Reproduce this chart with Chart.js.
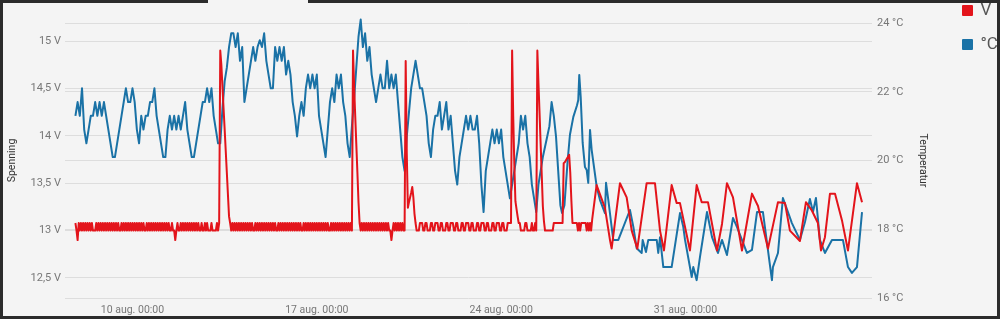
<!DOCTYPE html>
<html>
<head>
<meta charset="utf-8">
<script src="https://cdn.jsdelivr.net/npm/chart.js@4.4.1/dist/chart.umd.min.js"></script>
<style>
  html, body { margin: 0; padding: 0; background: #2b2b2b; }
  #wrap { position: relative; width: 1000px; height: 319px; background: #f4f4f4; overflow: hidden; }
  #frame { position: absolute; left: 0; top: 0; right: 0; bottom: 0; border: 3px solid #2b2b2b; pointer-events: none; }
  #notch { position: absolute; left: 208px; top: 0; width: 100px; height: 3px; background: #f4f4f4; }
</style>
</head>
<body>
<div id="wrap">
  <canvas id="chart" width="1000" height="319"></canvas>
  <div id="frame"></div>
  <div id="notch"></div>
</div>

<script>
  // time is counted in hours from 1 aug 00:00
  const seriesLabels = ['V', '°C'];

  // voltage: dense part sampled every hour, then the sparse tail as single readings
  const voltHeadStart = 164;
  const voltHeadStep = 1;
  const voltHead = [
    13.08, 13.0, 12.9, 13.08, 13.0, 13.08, 13.0, 13.08, 13.0, 13.08,
    13.0, 13.08, 13.0, 13.08, 13.0, 13.08, 13.0, 13.0, 13.0, 13.08,
    13.0, 13.08, 13.0, 13.08, 13.0, 13.08, 13.0, 13.08, 13.0, 13.08,
    13.0, 13.08, 13.0, 13.08, 13.0, 13.08, 13.0, 13.08, 13.0, 13.08,
    13.0, 13.0, 13.08, 13.0, 13.08, 13.0, 13.08, 13.0, 13.08, 13.0,
    13.08, 13.0, 13.08, 13.0, 13.08, 13.0, 13.08, 13.0, 13.08, 13.0,
    13.08, 13.0, 13.08, 13.0, 13.0, 13.08, 13.0, 13.08, 13.0, 13.08,
    13.0, 13.08, 13.0, 13.08, 13.0, 13.08, 13.0, 13.08, 13.0, 13.08,
    13.0, 13.08, 13.0, 13.08, 13.0, 13.08, 13.0, 13.0, 13.08, 13.0,
    13.0, 12.9, 13.0, 13.08, 13.0, 13.0, 13.08, 13.0, 13.08, 13.0,
    13.08, 13.0, 13.08, 13.0, 13.08, 13.0, 13.08, 13.0, 13.08, 13.0,
    13.08, 13.0, 13.08, 13.0, 13.0, 13.08, 13.0, 13.0, 13.08, 13.0,
    13.08, 13.0, 13.0, 13.0, 13.08, 13.0, 13.0, 13.0, 13.0, 13.08,
    13.0, 13.08, 14.9, 14.75, 14.52, 14.29, 14.07, 13.84, 13.61, 13.38,
    13.15, 13.08, 13.0, 13.08, 13.0, 13.08, 13.0, 13.08, 13.0, 13.08,
    13.0, 13.08, 13.0, 13.08, 13.0, 13.08, 13.0, 13.08, 13.0, 13.08,
    13.0, 13.08, 13.0, 13.0, 13.08, 13.0, 13.08, 13.0, 13.08, 13.0,
    13.08, 13.0, 13.08, 13.0, 13.08, 13.0, 13.08, 13.0, 13.08, 13.0,
    13.08, 13.0, 13.08, 13.0, 13.0, 13.08, 13.0, 13.08, 13.0, 13.08,
    13.0, 13.08, 13.0, 13.08, 13.0, 13.08, 13.0, 13.08, 13.0, 13.08,
    13.0, 13.08, 13.0, 13.08, 13.0, 13.08, 13.0, 13.0, 13.08, 13.0,
    13.08, 13.0, 13.08, 13.0, 13.08, 13.0, 13.08, 13.0, 13.08, 13.0,
    13.08, 13.0, 13.08, 13.0, 13.08, 13.0, 13.08, 13.0, 13.08, 13.0,
    13.08, 13.0, 13.0, 13.08, 13.0, 13.08, 13.0, 13.08, 13.0, 13.08,
    13.0, 13.08, 13.0, 13.08, 13.0, 13.08, 13.0, 13.08, 13.0, 13.08,
    13.0, 13.08, 13.0, 14.9, 14.52, 14.21, 13.91, 13.61, 13.3, 13.08,
    13.0, 13.08, 13.0, 13.08, 13.0, 13.08, 13.0, 13.08, 13.0, 13.08,
    13.0, 13.08, 13.0, 13.08, 13.0, 13.08, 13.0, 13.08, 13.0, 13.08,
    13.0, 13.08, 13.0, 13.08, 13.0, 13.08, 13.0, 13.0, 12.9, 13.0,
    13.08, 13.0, 13.08, 13.0, 13.08, 13.0, 13.08, 13.0, 13.08, 13.0,
    13.0, 14.79, 13.81, 13.24, 13.3, 13.35, 13.4, 13.46, 13.35, 13.18,
    13.08, 13.0, 13.0, 13.0, 13.08, 13.08, 13.08, 13.0, 13.0, 13.08,
    13.08, 13.0, 13.0, 13.0, 13.08, 13.08, 13.0, 13.0, 13.08, 13.08,
    13.08, 13.0, 13.0, 13.08, 13.08, 13.0, 13.0, 13.0, 13.08, 13.08,
    13.0, 13.0, 13.08, 13.08, 13.08, 13.0, 13.0, 13.08, 13.08, 13.0,
    13.0, 13.0, 13.08, 13.08, 13.0, 13.0, 13.08, 13.08, 13.08, 13.0,
    13.0, 13.08, 13.08, 13.0, 13.0, 13.0, 13.08, 13.08, 13.0, 13.0,
    13.08, 13.08, 13.08, 13.0, 13.0, 13.08, 13.08, 13.0, 13.0, 13.0,
    13.08, 13.08, 13.0, 13.0, 13.08, 13.08, 13.08, 13.0, 13.0, 13.08,
    13.08, 13.0, 13.0, 13.0, 13.08, 13.08, 13.08, 13.08, 14.9, 14.21,
    13.7, 13.31, 13.23, 13.15, 13.08, 13.08, 13.0, 13.0, 13.0, 13.0,
    13.08, 13.08, 13.0, 13.0, 13.0, 13.0, 13.08, 13.0, 13.0, 13.08,
    13.0, 14.9, 14.56, 14.24, 13.91, 13.59, 13.26, 13.1, 13.0, 13.0,
    13.0, 13.0, 13.0, 13.0, 13.0, 13.0, 13.08, 13.08, 13.08, 13.08,
    13.08, 13.08, 13.08, 13.08, 13.08, 13.71, 13.72, 13.74, 13.76, 13.78,
    13.8, 13.61, 13.32, 13.08, 13.08, 13.08, 13.08, 13.08, 13.0, 13.08,
    13.0, 13.08, 13.08, 13.08, 13.08, 13.08, 13.0, 13.08, 13.0, 13.08,
    13.0, 13.12, 13.21, 13.3, 13.39, 13.48
  ];
  const voltTailHours = [
    646.6, 651.2, 652.7, 660.3, 666.4, 671.0, 676.1, 684.6, 692.2, 696.8,
    700.4, 707.4, 712.0, 715.0, 724.1, 730.2, 734.8, 740.5, 748.7, 753.3,
    757.8, 763.3, 771.5, 780.6, 786.1, 795.2, 804.3, 810.7, 815.2, 824.3,
    829.8, 835.3, 840.7, 843.5, 847.1, 851.7, 856.3, 862.6, 868.1, 876.3,
    880.9
  ];
  const voltTail = [
    13.24, 12.9, 12.81, 13.5, 13.35, 13.0, 12.81, 13.5, 13.5, 13.0,
    12.79, 13.48, 13.29, 13.29, 12.79, 13.48, 13.3, 13.3, 12.79, 13.07,
    13.5, 13.35, 12.79, 13.39, 13.26, 12.81, 13.3, 13.29, 13.0, 12.89,
    13.3, 13.21, 13.08, 12.79, 12.93, 13.39, 13.39, 13.11, 12.79, 13.5,
    13.3
  ];

  // temperature: dense part sampled every 2 hours, then the sparse tail
  const tempHeadStart = 164;
  const tempHeadStep = 2;
  const tempHead = [
    21.3, 21.7, 21.3, 22.1, 20.9, 20.5, 20.9, 21.3, 21.3, 21.7,
    21.3, 21.7, 21.3, 21.7, 21.3, 20.9, 20.5, 20.1, 20.1, 20.5,
    20.9, 21.3, 21.7, 22.1, 21.7, 21.7, 22.1, 21.7, 20.9, 20.5,
    21.3, 20.9, 21.3, 21.3, 21.7, 21.7, 22.1, 21.3, 20.9, 20.5,
    20.1, 20.1, 20.9, 21.3, 20.9, 21.3, 20.9, 21.3, 20.9, 21.3,
    21.7, 20.9, 20.5, 20.1, 20.1, 20.5, 20.9, 21.3, 21.7, 21.7,
    22.1, 21.7, 22.1, 21.3, 20.9, 20.5, 20.5, 21.5, 22.3, 22.7,
    23.3, 23.7, 23.7, 23.3, 23.7, 22.9, 23.3, 21.7, 22.1, 22.5,
    22.9, 23.3, 22.9, 23.3, 23.5, 23.3, 23.7, 22.9, 22.5, 22.1,
    22.1, 23.3, 22.9, 23.3, 22.9, 23.3, 22.5, 22.9, 22.5, 21.7,
    21.3, 20.7, 21.3, 21.7, 21.3, 22.1, 22.5, 22.1, 22.5, 22.1,
    22.5, 21.3, 20.9, 20.5, 20.1, 20.9, 21.7, 22.1, 21.7, 22.5,
    22.1, 22.5, 21.7, 21.3, 20.5, 20.1, 21.0, 21.8, 22.7, 23.6,
    24.1, 23.3, 23.7, 22.9, 23.3, 22.5, 22.1, 21.7, 22.1, 22.5,
    22.1, 22.1, 22.9, 22.1, 22.5, 22.1, 22.5, 21.7, 20.9, 20.1,
    19.7, 20.7, 21.4, 22.1, 22.5, 22.9, 22.5, 22.1, 22.1, 21.7,
    21.3, 20.5, 20.1, 20.9, 21.3, 21.3, 21.7, 20.9, 21.3, 21.7,
    20.9, 21.3, 20.5, 19.7, 19.3, 20.1, 20.5, 20.9, 21.3, 20.9,
    21.3, 20.9, 20.9, 21.3, 20.5, 19.3, 18.5, 19.7, 20.1, 20.5,
    20.9, 20.5, 20.9, 20.5, 20.9, 20.1, 19.7, 19.3, 18.9, 19.3,
    19.7, 20.1, 20.5, 21.3, 20.9, 21.3, 20.5, 20.1, 19.3, 18.9,
    18.5, 19.3, 19.7, 20.1, 20.4, 20.7, 21.0, 21.7, 21.3, 20.7,
    19.7, 18.7
  ];
  const tempTailHours = [
    607.5, 609.7, 612.5, 614.7, 617.8, 621.1, 622.3, 623.2, 624.5, 626.3,
    628.4, 630.0, 631.4, 633.0, 634.5, 639.1, 642.1, 646.6, 647.6, 649.7,
    652.7, 654.2, 658.8, 669.4, 672.5, 675.5, 680.1, 681.0, 684.0, 686.1,
    693.8, 695.2, 696.8, 699.8, 707.4, 715.0, 718.0, 719.6, 725.7, 727.1,
    730.2, 733.2, 739.6, 744.2, 749.6, 753.3, 757.8, 763.3, 766.9, 776.0,
    780.6, 785.2, 790.6, 798.8, 799.7, 804.3, 808.8, 813.4, 817.0, 824.3,
    828.9, 833.4, 836.2, 838.9, 842.5, 847.1, 853.5, 863.5, 868.1, 871.7,
    876.3, 880.9
  ];
  const tempTail = [
    18.47, 18.7, 19.95, 20.75, 21.27, 21.6, 21.76, 22.49, 21.85, 20.51,
    19.81, 19.72, 19.35, 20.89, 20.31, 19.23, 18.85, 18.47, 19.35, 18.85,
    18.07, 17.69, 17.69, 18.56, 18.07, 17.45, 17.31, 17.69, 17.34, 17.69,
    17.69, 17.31, 17.77, 16.9, 16.9, 18.47, 18.07, 17.69, 16.61, 16.9,
    16.52, 17.19, 18.5, 17.77, 17.31, 17.69, 17.25, 18.33, 18.07, 17.31,
    17.4, 18.5, 18.5, 16.52, 16.9, 17.31, 18.91, 18.5, 18.18, 17.69,
    18.21, 18.88, 18.5, 18.91, 17.69, 17.31, 17.69, 17.69, 16.9, 16.73,
    16.9, 18.5
  ];

  const xTickHours = [216, 384, 552, 720];
  const xTickLabels = ['10 aug. 00:00', '17 aug. 00:00', '24 aug. 00:00', '31 aug. 00:00'];

  const gridPoints = (start, step, vals) => vals.map((v, i) => ({ x: start + i * step, y: v }));
  const pairPoints = (hours, vals) => hours.map((h, i) => ({ x: h, y: vals[i] }));

  const FONT = 'Roboto, "Noto Sans", sans-serif';
  const GRID = '#dddddd';

  // legend sits at the very top of the canvas, above the plot area
  const legendNudge = {
    id: 'legendNudge',
    afterLayout(chart) {
      chart.legend.top = -15;
    }
  };

  function initChart() {
    const ctx = document.getElementById('chart').getContext('2d');

    new Chart(ctx, {
      type: 'line',
      data: {
        datasets: [
          {
            label: seriesLabels[0],
            data: gridPoints(voltHeadStart, voltHeadStep, voltHead).concat(pairPoints(voltTailHours, voltTail)),
            yAxisID: 'yV',
            borderColor: '#e3141b',
            backgroundColor: '#e3141b',
            borderWidth: 2,
            borderJoinStyle: 'round',
            pointRadius: 0,
            tension: 0,
            clip: 8
          },
          {
            label: seriesLabels[1],
            data: gridPoints(tempHeadStart, tempHeadStep, tempHead).concat(pairPoints(tempTailHours, tempTail)),
            yAxisID: 'yT',
            borderColor: '#1a72a6',
            backgroundColor: '#1a72a6',
            borderWidth: 2,
            borderJoinStyle: 'round',
            pointRadius: 0,
            tension: 0,
            clip: 8
          }
        ]
      },
      options: {
        responsive: false,
        animation: false,
        events: [],
        layout: { padding: 0 },
        plugins: {
          tooltip: { enabled: false },
          legend: {
            position: 'right',
            align: 'start',
            maxWidth: 54,
            labels: {
              boxWidth: 9,
              boxHeight: 9,
              padding: 17,
              color: '#555',
              font: { family: FONT, size: 17 }
            }
          }
        },
        scales: {
          x: {
            type: 'linear',
            min: 154.5,
            max: 890,
            grid: { display: false, drawTicks: false },
            border: { display: false },
            afterBuildTicks: s => { s.ticks = xTickHours.map(v => ({ value: v })); },
            afterFit: s => { s.height = 21; },
            ticks: {
              autoSkip: false,
              maxRotation: 0,
              padding: 6,
              color: '#777',
              font: { family: FONT, size: 10.5 },
              callback: v => xTickLabels[xTickHours.indexOf(v)]
            }
          },
          yV: {
            position: 'left',
            min: 12.289,
            max: 15.19,
            grid: { color: GRID, drawTicks: false },
            border: { display: false },
            afterFit: s => { s.width = 65; s.paddingTop = 23; },
            ticks: {
              stepSize: 0.5,
              includeBounds: false,
              padding: 4,
              color: '#777',
              font: { family: FONT, size: 11 },
              callback: v => String(v).replace('.', ',') + ' V'
            },
            title: {
              display: true,
              text: 'Spenning',
              color: '#333',
              padding: { top: 6, bottom: 0 },
              font: { family: FONT, size: 10.5 }
            }
          },
          yT: {
            position: 'right',
            min: 16,
            max: 24,
            grid: { color: GRID, drawTicks: false },
            border: { display: false },
            afterFit: s => { s.width = 74; s.paddingTop = 23; },
            ticks: {
              stepSize: 2,
              padding: 5,
              color: '#777',
              font: { family: FONT, size: 11 },
              callback: v => v + ' °C'
            },
            title: {
              display: true,
              text: 'Temperatur',
              color: '#333',
              padding: { top: 17, bottom: 0 },
              font: { family: FONT, size: 10.5 }
            }
          }
        }
      },
      plugins: [legendNudge]
    });
  }

  requestAnimationFrame(initChart);
</script>
</body>
</html>
